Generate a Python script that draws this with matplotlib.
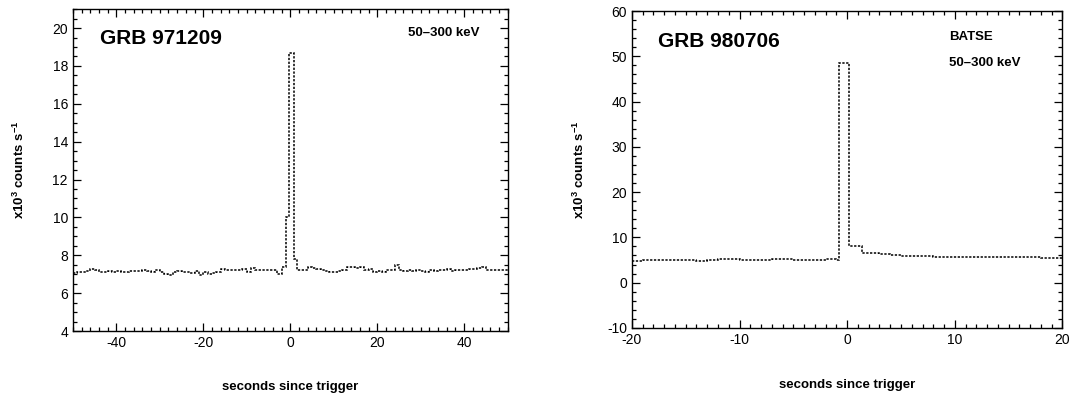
import matplotlib
matplotlib.use('Agg')
import matplotlib.pyplot as plt
from matplotlib.ticker import MultipleLocator

plt.rcParams['font.family'] = ['Liberation Sans', 'DejaVu Sans']
plt.rcParams['mathtext.default'] = 'regular'
plt.rcParams['axes.unicode_minus'] = False

# GRB 971209, 50-300 keV: bin edges (s) and rates (x10^3 counts/s)
left_edges = list(range(-50, 0)) + [-0.4, 0.85, 1.6] + list(range(2, 51))
left_rates = [
    7.05, 7.10, 7.10, 7.15, 7.30, 7.20, 7.10, 7.10, 7.15, 7.10,
    7.15, 7.10, 7.10, 7.15, 7.15, 7.15, 7.20, 7.15, 7.10, 7.25,
    7.10, 7.00, 6.95, 7.10, 7.15, 7.10, 7.10, 7.05, 7.15, 6.95,
    7.10, 7.00, 7.05, 7.10, 7.30, 7.25, 7.20, 7.20, 7.25, 7.30,
    7.10, 7.35, 7.20, 7.25, 7.20, 7.20, 7.25, 7.00, 7.40,
    10.0, 18.7, 7.8, 7.2,
    7.20, 7.20, 7.40, 7.35, 7.30, 7.25, 7.15, 7.10, 7.10, 7.15,
    7.20, 7.40, 7.40, 7.35, 7.40, 7.25, 7.30, 7.10, 7.15, 7.10,
    7.20, 7.25, 7.50, 7.20, 7.15, 7.20, 7.15, 7.25, 7.15, 7.10,
    7.20, 7.15, 7.25, 7.20, 7.30, 7.15, 7.25, 7.20, 7.25, 7.30,
    7.30, 7.35, 7.40, 7.25, 7.20, 7.20, 7.20, 7.20,
]

# GRB 980706, BATSE 50-300 keV
right_edges = list(range(-20, 0)) + [-0.8, 0.2, 1.4] + list(range(2, 21))
right_rates = [
    4.8, 4.9, 5.0, 5.0, 5.0, 5.0, 4.8, 5.0, 5.2, 5.2,
    5.1, 5.0, 5.1, 5.2, 5.3, 5.0, 5.1, 5.1, 5.2,
    5.1, 48.5, 8.0, 6.5,
    6.5, 6.3, 6.0, 5.9, 5.8, 5.8, 5.7, 5.7, 5.6, 5.7,
    5.7, 5.6, 5.6, 5.6, 5.7, 5.6, 5.5, 5.4,
]

fig = plt.figure(figsize=(10.71, 3.96), dpi=100)
ax1 = fig.add_axes([0.068, 0.164, 0.406, 0.813])
ax2 = fig.add_axes([0.590, 0.172, 0.402, 0.800])


def style_axis(ax, xlab_y):
    for s in ax.spines.values():
        s.set_linewidth(1.0)
    ax.tick_params(which='both', direction='in', top=True, right=True,
                   labelsize=10, width=0.9)
    ax.tick_params(which='major', length=6)
    ax.tick_params(which='minor', length=3)
    ax.set_xlabel('seconds since trigger', fontsize=9.5, fontweight='bold')
    ax.set_ylabel('x10$^3$ counts s$^{-1}$', fontsize=9.5, fontweight='bold')
    ax.xaxis.set_label_coords(0.5, xlab_y)
    ax.yaxis.set_label_coords(-0.105, 0.5)


# left panel
ax1.stairs(left_rates, left_edges, color='black', lw=1.1,
           linestyle=(0, (1.5, 1)), baseline=None)
ax1.set_xlim(-50, 50)
ax1.set_ylim(4, 21)
ax1.xaxis.set_major_locator(MultipleLocator(20))
ax1.xaxis.set_minor_locator(MultipleLocator(2))
ax1.yaxis.set_major_locator(MultipleLocator(2))
ax1.yaxis.set_minor_locator(MultipleLocator(0.5))
style_axis(ax1, -0.155)
ax1.text(0.062, 0.91, 'GRB 971209', transform=ax1.transAxes, fontsize=15,
         fontweight='bold', va='center')
ax1.text(0.77, 0.925, '50–300 keV', transform=ax1.transAxes, fontsize=9.5,
         fontweight='bold', va='center')

# right panel
ax2.stairs(right_rates, right_edges, color='black', lw=1.1,
           linestyle=(0, (1.5, 1)), baseline=None)
ax2.set_xlim(-20, 20)
ax2.set_ylim(-10, 60)
ax2.xaxis.set_major_locator(MultipleLocator(10))
ax2.xaxis.set_minor_locator(MultipleLocator(1))
ax2.yaxis.set_major_locator(MultipleLocator(10))
ax2.yaxis.set_minor_locator(MultipleLocator(2))
style_axis(ax2, -0.16)
ax2.text(0.06, 0.903, 'GRB 980706', transform=ax2.transAxes, fontsize=15,
         fontweight='bold', va='center')
ax2.text(0.737, 0.918, 'BATSE', transform=ax2.transAxes, fontsize=9.5,
         fontweight='bold', va='center')
ax2.text(0.737, 0.836, '50–300 keV', transform=ax2.transAxes, fontsize=9.5,
         fontweight='bold', va='center')

fig.savefig('out.png', dpi=100)
